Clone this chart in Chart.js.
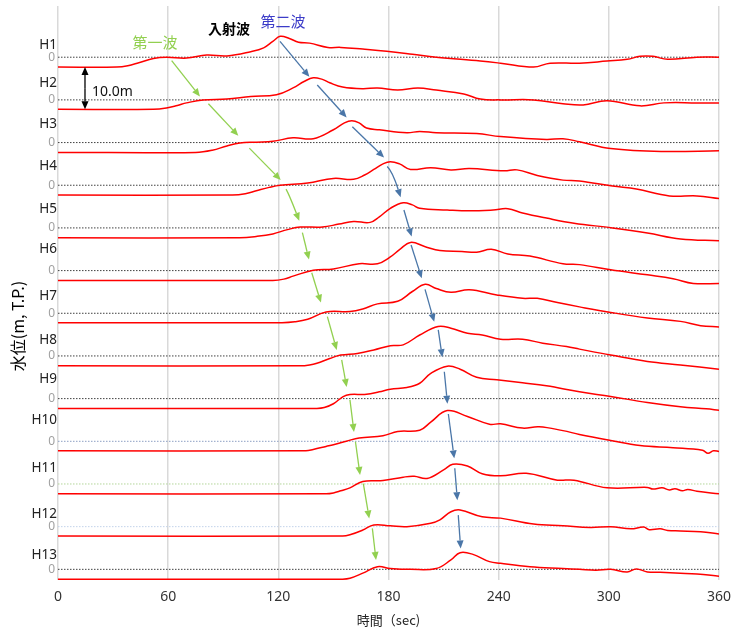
<!DOCTYPE html>
<html>
<head>
<meta charset="utf-8">
<script src="https://cdn.jsdelivr.net/npm/chart.js@4.4.1/dist/chart.umd.min.js"></script>
<style>
  body { margin: 0; background: #fff; }
  canvas { display: block; }
</style>
</head>
<body>
<canvas id="wave" width="731" height="630"></canvas>
<script>
// water level (m, T.P.), [time sec, level]
const h1 = [[0,-2.3],[32,-2.3],[38,-2.0],[44,-1.3],[52,-0.3],[59,0],[70,-0.2],[81,0.5],[92,0.3],[105,1.3],[112,2.2],[117,3.7],[121,4.9],[126,4.4],[131,3.5],[137,3.3],[147,2.3],[154,2.3],[166,1.9],[179,1.4],[193,0.7],[206,0],[230,-0.9],[241,-1.4],[259,-2.3],[268,-1.4],[284,-1.4],[299,-0.9],[310,-0.5],[317,0.2],[324,0.2],[332,-0.5],[348,0],[360,0]]
const h2 = [[0,-2.2],[52,-2.2],[59,-1.9],[65,-1.3],[70,-0.7],[79,0],[92,0.2],[105,0.8],[119,1.2],[128,2.8],[134,4.3],[139,5.2],[144,4.8],[148,4.0],[155,3.0],[166,2.6],[174,2.8],[185,2.3],[196,2.8],[206,2.3],[221,1.4],[230,0.2],[241,0],[259,0],[275,-0.9],[286,-1.2],[299,-0.2],[317,-1.4],[330,-0.7],[348,-0.7],[360,-0.7]]
const h3 = [[0,-2.3],[75,-2.3],[84,-1.8],[92,-0.8],[99,-0.1],[108,0.1],[117,0.3],[128,1.1],[139,0.9],[150,3.0],[156,4.6],[160,5.1],[164,4.6],[168,3.4],[175,3.0],[190,2.3],[197,2.6],[206,2.3],[228,2.1],[241,1.4],[266,0.7],[275,0.9],[284,0.2],[301,-1.4],[330,-2.1],[360,-1.9]]
const h4 = [[0,-2.3],[95,-2.3],[102,-2.0],[108,-1.3],[115,-0.5],[121,0],[136,0.5],[150,1.6],[161,1.4],[167,2.4],[172,3.7],[177,5.0],[181,5.5],[186,5.0],[192,3.7],[203,4.1],[214,3.6],[224,3.9],[243,3.4],[250,3.6],[261,2.3],[275,1.2],[284,1.0],[302,-0.2],[315,-0.9],[333,-2.5],[348,-2.5],[360,-3.1]]
const h5 = [[0,-2.3],[99,-2.3],[108,-2.0],[117,-1.4],[125,-0.4],[132,0.2],[144,0.2],[153,0.9],[161,1.5],[170,1.3],[175,2.6],[181,4.6],[188,5.9],[193,5.4],[197,4.6],[212,4.2],[224,4.0],[237,4.2],[245,4.5],[253,3.5],[266,2.3],[281,1.1],[302,0],[321,-1.2],[339,-2.6],[360,-3.0]]
const h6 = [[0,-2.3],[117,-2.3],[123,-2.0],[128,-1.3],[139,0.1],[150,0.4],[164,1.6],[174,1.6],[181,3.2],[186,4.9],[192,6.6],[200,5.6],[208,4.7],[220,4.5],[228,4.3],[236,5.0],[245,3.9],[257,3.4],[275,1.6],[284,1.4],[301,0.2],[321,-1.0],[335,-1.9],[346,-3.0],[360,-3.0]]
const h7 = [[0,-2.2],[122,-2.2],[129,-2.0],[136,-1.4],[146,0.3],[159,0.4],[166,1.0],[174,2.2],[185,2.8],[193,5.1],[200,6.8],[206,5.8],[214,4.9],[224,5.5],[239,4.3],[253,3.5],[261,3.5],[272,2.5],[284,1.5],[301,0.2],[321,-1.1],[339,-1.9],[350,-2.9],[360,-3.2]]
const h8 = [[0,-2.3],[132,-2.3],[137,-2.1],[141,-1.7],[148,-0.6],[154,0.2],[163,0.6],[172,1.4],[181,2.4],[188,2.6],[197,4.9],[207,6.9],[214,6.5],[223,5.3],[231,4.9],[241,3.9],[253,3.9],[264,3.0],[277,2.2],[284,1.6],[301,0.2],[321,-1.3],[339,-2.1],[360,-3.1]]
const h9 = [[0,-2.3],[141,-2.3],[145,-2.1],[150,-1.2],[157,0.8],[168,1.0],[175,1.6],[181,2.2],[190,2.6],[197,3.6],[203,5.9],[212,7.6],[219,6.9],[228,5.0],[239,4.4],[253,3.7],[266,3.0],[284,1.6],[301,0.5],[321,-0.9],[339,-1.9],[353,-2.4],[360,-2.7]]
const h10 = [[0,-2.2],[135,-2.2],[139,-1.9],[146,-1.2],[150,-0.8],[157,0],[164,0.8],[177,1.3],[185,2.3],[197,2.6],[203,4.5],[212,7.2],[223,5.8],[235,4.0],[241,4.1],[253,3.1],[262,3.4],[275,2.5],[284,1.6],[301,0.2],[317,-1.0],[335,-1.5],[351,-2.1],[354,-2.8],[357,-2.2],[360,-2.4]]
const h11 = [[0,-2.3],[146,-2.3],[150,-2.1],[154,-1.6],[159,-0.9],[166,0.6],[177,0.8],[188,1.6],[194,1.8],[201,1.3],[210,3.3],[215,4.6],[223,4.2],[231,2.4],[241,1.9],[255,2.5],[272,0.9],[281,0.9],[299,-0.9],[321,-0.8],[324,-1.2],[329,-0.9],[333,-1.4],[336,-1.1],[340,-1.6],[343,-1.3],[348,-1.7],[360,-2.3]]
const h12 = [[0,-2.2],[155,-2.2],[159,-1.9],[166,-0.8],[172,0.4],[181,0.2],[190,0],[203,0.8],[208,1.6],[214,3.5],[219,3.9],[231,2.3],[241,2.0],[259,0.6],[275,0.2],[290,-0.2],[301,0],[312,-0.5],[319,-0.1],[322,-0.7],[328,-0.5],[332,-0.9],[339,-1.0],[350,-1.2],[360,-1.7]]
const h13 = [[0,-2.3],[155,-2.3],[159,-2.1],[166,-0.9],[174,0.6],[181,0.2],[192,0],[206,0.2],[214,2.2],[219,3.9],[226,3.5],[235,1.8],[241,1.4],[257,0.6],[275,0.2],[284,0],[293,-0.2],[301,0],[310,-0.6],[315,0.1],[321,-0.6],[328,-0.7],[339,-0.9],[348,-1.1],[360,-1.6]]

const stations = ['H1','H2','H3','H4','H5','H6','H7','H8','H9','H10','H11','H12','H13']
const series = [h1,h2,h3,h4,h5,h6,h7,h8,h9,h10,h11,h12,h13]
const xTicks = [0, 60, 120, 180, 240, 300, 360]
const spacing = 10   // m between stacked gauges

// arrow paths in chart units: [t0, v0, t1, v1, (control t, control v)]
const firstWave = [[61.9,-0.8,77.3,-9.2],[81.9,-10.9,98.2,-18.4],[104.2,-21.3,121.3,-28.8],[124.2,-30.9,131.4,-38.3,126.0,-32.3],[133.1,-41.1,136.7,-47.4],[138.2,-50.5,143.2,-57.5],[146.7,-60.8,151.8,-68.6],[154.5,-70.9,157.2,-77.3],[159.0,-80.3,161.2,-87.8],[162.0,-90.1,164.5,-97.9],[166.3,-99.9,169.5,-108.1],[171.2,-110.4,173.2,-117.8]]
const secondWave = [[120.9,3.7,136.9,-4.6],[141.2,-6.5,157.2,-14.1],[160.3,-16.3,177.6,-23.5],[179.3,-25.6,186.6,-32.8,182.2,-26.8],[188.4,-35.8,192.6,-42.0],[192.3,-44.0,198.1,-51.8],[199.9,-54.4,204.9,-62.0],[207.1,-63.9,209.3,-70.3],[210.4,-73.7,212.1,-81.2],[212.6,-83.6,215.8,-94.0],[216.1,-96.3,217.5,-103.8],[218.0,-107.3,219.3,-115.1]]

const zeroColors = ['#404040','#404040','#404040','#404040','#404040','#404040','#404040','#404040','#404040','#8d9fc4','#b3d69a','#c3d3ea','#404040']
const labelLift = [12, 17, 18, 19, 19, 21, 17, 16, 19, 21, 16, 12, 14]

Chart.defaults.font.family = "'Noto Sans', 'Noto Sans CJK JP', sans-serif"

const datasets = []
series.forEach((pts, i) => {
    const off = -spacing * i
    datasets.push({
        label: stations[i],
        data: pts.map(p => ({x: p[0], y: p[1] + off})),
        borderColor: '#ff0000',
        borderWidth: 1.5,
        pointRadius: 0,
        tension: 0.4,
        order: 1
    })
    datasets.push({
        label: stations[i] + ' 0',
        data: [{x: 0, y: off}, {x: 360, y: off}],
        borderColor: zeroColors[i],
        borderWidth: 1,
        borderDash: [1.5, 1.5],
        pointRadius: 0,
        order: 2
    })
})

function arrow(ctx, x1, y1, x2, y2, color, cx, cy) {
    const head = 8, half = 3.5
    const fx = cx == null ? x1 : cx
    const fy = cy == null ? y1 : cy
    const a = Math.atan2(y2 - fy, x2 - fx)
    const bx = x2 - head * Math.cos(a), by = y2 - head * Math.sin(a)
    ctx.strokeStyle = color
    ctx.fillStyle = color
    ctx.lineWidth = 1.3
    ctx.beginPath()
    ctx.moveTo(x1, y1)
    if (cx != null) ctx.quadraticCurveTo(cx, cy, bx, by)
    else ctx.lineTo(bx, by)
    ctx.stroke()
    ctx.beginPath()
    ctx.moveTo(x2, y2)
    ctx.lineTo(bx + half * Math.sin(a), by - half * Math.cos(a))
    ctx.lineTo(bx - half * Math.sin(a), by + half * Math.cos(a))
    ctx.closePath()
    ctx.fill()
}

const notes = {
    id: 'notes',
    afterDatasetsDraw(chart) {
        const {ctx, scales: {x, y}} = chart
        ctx.save()
        // station names and zero marks
        stations.forEach((name, i) => {
            const y0 = y.getPixelForValue(-spacing * i)
            ctx.textAlign = 'right'
            ctx.textBaseline = 'middle'
            ctx.fillStyle = '#222'
            ctx.font = "13.5px 'Noto Sans'"
            ctx.fillText(name, 57, y0 - labelLift[i])
            ctx.fillStyle = '#a0a0a0'
            ctx.font = "12px 'Noto Sans'"
            ctx.fillText('0', 55, y0)
        })
        // arrows
        const draw = (list, color) => list.forEach(a => {
            const cx = a.length > 4 ? x.getPixelForValue(a[4]) : null
            const cy = a.length > 4 ? y.getPixelForValue(a[5]) : null
            arrow(ctx, x.getPixelForValue(a[0]), y.getPixelForValue(a[1]),
                x.getPixelForValue(a[2]), y.getPixelForValue(a[3]), color, cx, cy)
        })
        draw(firstWave, '#92d050')
        draw(secondWave, '#4a76a8')

        // 10 m scale bar between H1 and H2 still levels
        const sx = x.getPixelForValue(14.7)
        const sTop = y.getPixelForValue(h1[0][1])
        const sBot = y.getPixelForValue(h2[0][1] - spacing)
        arrow(ctx, sx, (sTop + sBot) / 2, sx, sTop, '#000')
        arrow(ctx, sx, (sTop + sBot) / 2, sx, sBot, '#000')
        ctx.textAlign = 'left'
        ctx.textBaseline = 'middle'
        ctx.fillStyle = '#111'
        ctx.font = "14px 'Noto Sans'"
        ctx.fillText('10.0m', x.getPixelForValue(18.5), y.getPixelForValue(-8.1))

        ctx.textAlign = 'center'
        ctx.font = "15px 'Noto Sans CJK JP'"
        ctx.fillStyle = '#92d050'
        ctx.fillText('第一波', x.getPixelForValue(52.8), y.getPixelForValue(3.5))
        ctx.fillStyle = '#3c3cc8'
        ctx.fillText('第二波', x.getPixelForValue(122.5), y.getPixelForValue(8.3))
        ctx.fillStyle = '#000'
        ctx.font = "bold 14px 'Noto Sans CJK JP'"
        ctx.fillText('入射波', x.getPixelForValue(93.1), y.getPixelForValue(6.6))

        // vertical axis title
        ctx.translate(18, (chart.chartArea.top + chart.chartArea.bottom) / 2 + 33)
        ctx.rotate(-Math.PI / 2)
        ctx.font = "16px 'Noto Sans CJK JP'"
        ctx.fillStyle = '#000'
        ctx.fillText('水位(m, T.P.)', 0, 0)
        ctx.restore()
    }
}

new Chart(document.getElementById('wave'), {
    type: 'line',
    data: {datasets},
    options: {
        responsive: false,
        animation: false,
        layout: {padding: {left: 58, right: 12, top: 6, bottom: 0}},
        plugins: {legend: {display: false}, tooltip: {enabled: false}},
        scales: {
            x: {
                type: 'linear',
                min: 0,
                max: 360,
                afterBuildTicks: s => { s.ticks = xTicks.map(v => ({value: v})) },
                afterFit: s => { s.height = 50; s.paddingLeft = 0; s.paddingRight = 0 },
                ticks: {font: {size: 14}, color: '#333', padding: 9, maxRotation: 0},
                grid: {color: '#d9d9d9', lineWidth: 1.5, drawTicks: false},
                border: {display: false},
                title: {display: true, text: '時間（sec)', color: '#222', font: {size: 13, family: "'Noto Sans CJK JP'"}, padding: {top: 0, bottom: 2}}
            },
            y: {
                type: 'linear',
                display: false,
                min: -122.5,
                max: 12
            }
        }
    },
    plugins: [notes]
})
</script>
</body>
</html>
